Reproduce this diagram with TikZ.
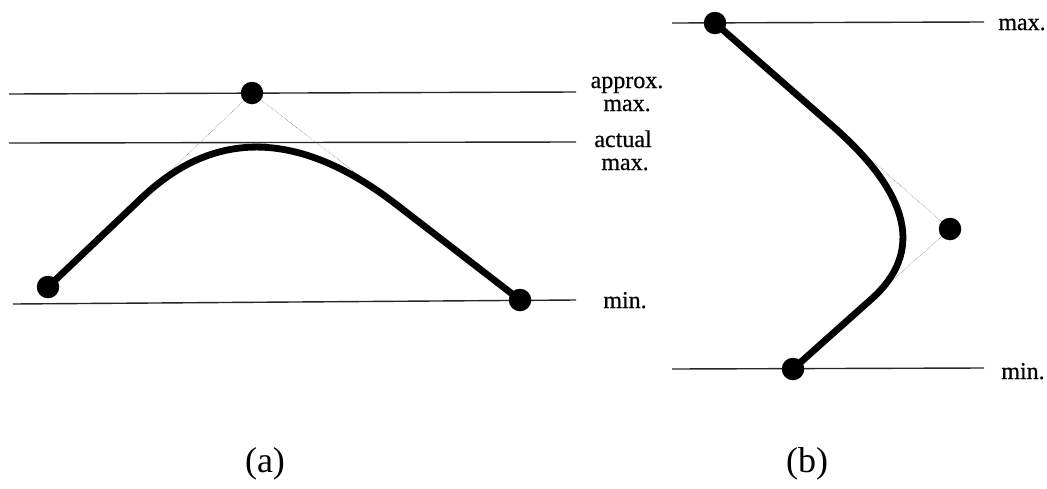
\documentclass[tikz,border=0pt]{standalone}
\usepackage{fontspec}
\setmainfont{Liberation Serif}
\usetikzlibrary{calc}
\begin{document}
\begin{tikzpicture}[x=1pt,y=-1pt,
  refline/.style={line width=1.4pt,black!85},
  ctrlpoly/.style={line width=0.6pt,black!45,densely dotted},
  curveline/.style={line width=6.8pt,line cap=round,line join=round},
  ptdot/.style={circle,fill=black,inner sep=0pt,minimum size=22.5pt},
  lbl/.style={font=\fontsize{24}{24}\selectfont\addfontfeature{FakeBold=0.6},anchor=base,inner sep=0pt},
  subcap/.style={font=\fontsize{36}{36}\selectfont,inner sep=0pt}]
\useasboundingbox (0,0) rectangle (1047,488);
% ---------- (a) ----------
\coordinate (aMaxL) at (9,94);   \coordinate (aMaxR) at (576,92);
\coordinate (aActL) at (9,143);  \coordinate (aActR) at (576,142);
\coordinate (aMinL) at (13,304); \coordinate (aMinR) at (576,300);
\draw[refline] (aMaxL) -- (aMaxR);
\draw[refline] (aActL) -- (aActR);
\draw[refline] (aMinL) -- (aMinR);
\coordinate (P0) at (48,287);
\coordinate (P1) at (252,93);
\coordinate (P2) at (520,300);
\coordinate (A) at ($(P1)!0.54!(P0)$);
\coordinate (B) at ($(P1)!0.54!(P2)$);
\draw[ctrlpoly] (P0) -- (P1) -- (P2);
\draw[curveline] (P0) -- (A) .. controls ($(A)!2/3!(P1)$) and ($(B)!2/3!(P1)$) .. (B) -- (P2);
\node[ptdot] (d0) at (P0) {};
\node[ptdot] (d1) at (P1) {};
\node[ptdot] (d2) at (P2) {};
\node[lbl] (t1) at (627,88) {approx.};
\node[lbl] (t2) at (627,111) {max.};
\node[lbl] (t3) at (623,147) {actual};
\node[lbl] (t4) at (625,170) {max.};
\node[lbl] (t5) at (625,308) {min.};
\node[subcap] (capa) at (265,464) {(a)};
% ---------- (b) ----------
\coordinate (bMaxL) at (672,23);  \coordinate (bMaxR) at (984,22);
\coordinate (bMinL) at (672,369); \coordinate (bMinR) at (984,368);
\draw[refline] (bMaxL) -- (bMaxR);
\draw[refline] (bMinL) -- (bMinR);
\coordinate (Q0) at (715,23);
\coordinate (Q1) at (950,229);
\coordinate (Q2) at (793,369);
\coordinate (C) at ($(Q1)!0.5!(Q0)$);
\coordinate (D) at ($(Q1)!0.5!(Q2)$);
\draw[ctrlpoly] (Q0) -- (Q1) -- (Q2);
\draw[curveline] (Q0) -- (C) .. controls ($(C)!2/3!(Q1)$) and ($(D)!2/3!(Q1)$) .. (D) -- (Q2);
\node[ptdot] (e0) at (Q0) {};
\node[ptdot] (e1) at (Q1) {};
\node[ptdot] (e2) at (Q2) {};
\node[lbl] (u1) at (1022,30) {max.};
\node[lbl] (u2) at (1023,379) {min.};
\node[subcap] (capb) at (807,464) {(b)};
\end{tikzpicture}
\end{document}
